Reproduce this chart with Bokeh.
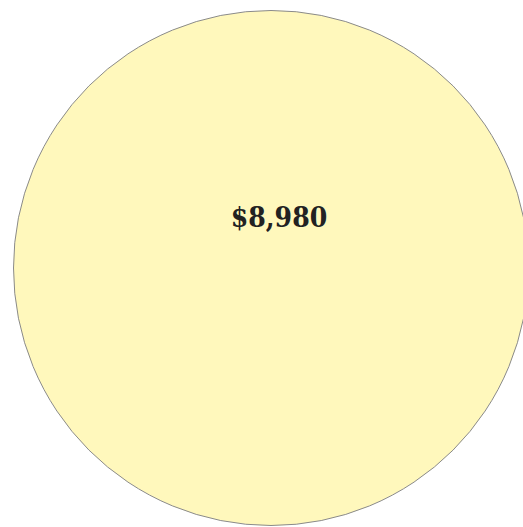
import math
from bokeh.plotting import figure
from bokeh.models import ColumnDataSource, Range1d
from bokeh.core.properties import value
from bokeh.embed import file_html
from bokeh.resources import INLINE

# data
categories = ["Total"]
values = [8980]
labels = ["$8,980"]

W, H = 530, 530
px_radius = 257.5
r = [math.sqrt(v) for v in values]
scale = px_radius / r[0]  # pixels per data unit
cx_px, cy_px = 270.5, 267.5  # circle centre in figure pixels (from top-left)

p = figure(width=W, height=H, output_backend="svg", toolbar_location=None,
           min_border=0, x_axis_type=None, y_axis_type=None,
           background_fill_color="white", border_fill_color="white")
p.outline_line_color = None
p.grid.visible = False
p.x_range = Range1d(-cx_px / scale, (W - cx_px) / scale)
p.y_range = Range1d(-(H - cy_px) / scale, cy_px / scale)

src = ColumnDataSource(dict(x=[0] * len(values), y=[0] * len(values), r=r,
                            cat=categories, label=labels))
p.circle(x="x", y="y", radius="r", source=src, fill_color="#FFF8BC",
         line_color="#8a8a8a", line_width=1)
p.text(x="x", y="y", text="label", source=src, x_offset=8, y_offset=-51,
       text_align="center", text_baseline="middle",
       text_font=value("DejaVu Serif Condensed"), text_font_style="bold",
       text_font_size="28px", text_color="#222222")

open("out.html", "w").write(file_html(p, INLINE))
